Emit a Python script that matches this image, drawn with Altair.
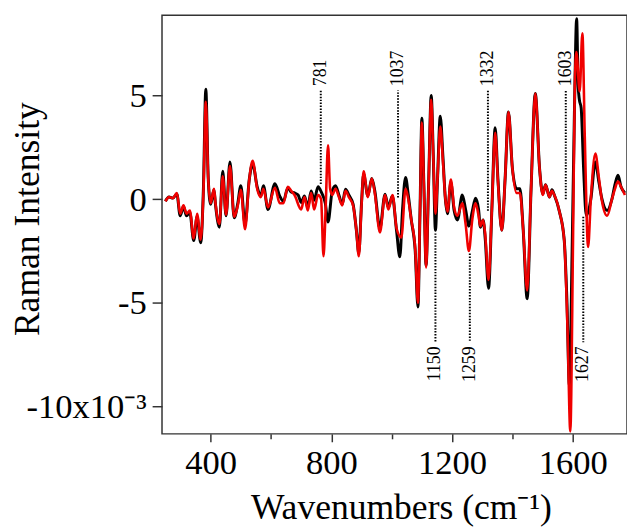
import altair as alt
import pandas as pd

# ---- spectra (intensity in units of 1e-3) ----
black_x = [250, 262, 275, 288, 299, 310, 320, 331, 344, 355, 367, 376, 384, 392, 400, 411, 416, 429, 440, 451,
           464, 478, 490, 500, 514, 528, 539, 555, 566, 575, 590, 613, 629, 641, 656, 667, 678, 690, 700, 711,
           722, 733, 743, 756, 768, 780, 789, 803, 814, 825, 836, 847, 858, 872, 883, 891, 900, 907, 921, 934,
           944, 961, 978, 989, 1002, 1016, 1027, 1036, 1046, 1055, 1065, 1078, 1087, 1094, 1100, 1107, 1114, 1122, 1131, 1138,
           1145, 1152, 1161, 1170, 1178, 1185, 1196, 1207, 1218, 1234, 1245, 1256, 1267, 1278, 1288, 1294, 1303, 1310, 1321, 1332,
           1343, 1352, 1365, 1376, 1387, 1400, 1414, 1425, 1436, 1449, 1462, 1476, 1490, 1501, 1510, 1523, 1531, 1539, 1556, 1572,
           1581, 1589, 1598, 1606, 1613, 1618, 1622, 1628, 1636, 1645, 1660, 1675, 1687, 1697, 1714, 1730, 1740, 1750, 1760, 1773]
black_y = [-0.1, 0.1, 0.05, 0.25, -0.8, -0.35, -0.8, -0.65, -2.0, -0.85, -2.1, 0.5, 5.3, 1.0, -0.25, 0.45, -0.25, -1.35, 1.35, -0.8,
           1.8, -0.9, -0.2, 0.65, -1.2, 0.95, 1.7, 0.55, 0.15, 0.65, -0.5, 0.75, 0.15, -0.1, 0.55, 0.35, 0.3, 0.2, -0.16, 0.16,
           -0.4, 0.4, -0.05, 0.6, 0.3, -0.2, -1.1, 0.4, 0.65, 0.2, -0.24, 0.48, 0.2, -0.24, -1.5, -2.6, -0.2, 1.2, 0.16, 1.0,
           0.4, -1.4, 0.24, -0.4, 0.16, -1.5, -2.78, -0.5, 1.05, 0.2, -1.0, -2.5, -5.2, -0.5, 3.9, 0.5, -3.2, 0.5, 5.0, 2.0,
           -1.5, 1.0, 4.0, 2.0, 0.0, -0.7, 0.8, -0.55, -1.0, 0.2, -0.5, -1.3, -0.6, 0.05, -0.5, -1.35, -1.0, -1.9, -4.3, -0.5,
           3.45, 1.0, -1.5, 1.0, 4.2, 1.5, 0.5, 0.5, -1.5, -4.8, 0.5, 5.1, 1.5, 0.25, 0.7, 0.1, 0.45, 0.2, -0.6, -2.0,
           -5.0, -9.0, -2.5, 4.5, 8.7, 5.5, 4.8, 4.4, 1.5, -0.8, 0.0, 1.8, 0.8, 0.0, -0.55, 0.0, 0.7, 1.15, 0.6, 0.3]

red_x = [250, 262, 275, 288, 299, 310, 320, 331, 344, 355, 367, 376, 384, 392, 400, 411, 416, 429, 440, 451,
         464, 478, 490, 500, 514, 528, 539, 555, 566, 575, 590, 613, 629, 641, 656, 667, 678, 700, 711, 722,
         733, 743, 756, 766, 774, 781, 789, 796, 803, 814, 825, 836, 847, 858, 872, 883, 891, 900, 907, 921,
         934, 944, 961, 978, 989, 1003, 1016, 1032, 1046, 1055, 1065, 1078, 1087, 1094, 1100, 1107, 1114, 1122, 1131, 1138,
         1145, 1152, 1161, 1170, 1178, 1185, 1196, 1207, 1218, 1234, 1245, 1256, 1267, 1278, 1288, 1294, 1303, 1310, 1321, 1332,
         1343, 1352, 1365, 1376, 1387, 1400, 1414, 1425, 1436, 1449, 1462, 1476, 1490, 1501, 1510, 1523, 1531, 1539, 1556, 1572,
         1583, 1592, 1601, 1607, 1612, 1623, 1632, 1640, 1651, 1660, 1675, 1687, 1697, 1714, 1730, 1740, 1750, 1760, 1773]
red_y = [-0.1, 0.1, 0.05, 0.3, -0.7, -0.3, -0.7, -0.55, -1.9, -0.7, -1.95, 0.3, 4.7, 1.0, -0.2, 0.5, -0.2, -1.2, 1.1, -0.75,
         1.6, -0.85, -0.3, 0.45, -1.45, 0.95, 1.85, 0.45, 0.1, 0.5, -0.4, 0.55, -0.2, -0.2, 0.6, 0.4, 0.2, -0.5, 0.1, -0.55,
         0.3, -0.5, 0.2, 0.0, -2.75, -0.5, 2.6, 0.5, 0.2, 0.5, 0.1, -0.3, 0.4, 0.1, -0.3, -1.5, -2.75, -0.3, 1.35, 0.1,
         1.0, 0.3, -1.6, 0.2, -0.5, 0.2, -1.4, -1.85, 0.5, 0.0, -1.0, -2.4, -5.0, -0.5, 3.7, 0.5, -3.3, 0.5, 4.8, 2.0,
         -0.7, 1.0, 3.5, 1.8, 0.0, -0.6, 0.95, -0.4, -0.8, -0.2, -1.2, -2.5, -1.0, -0.2, -0.8, -1.3, -1.0, -1.7, -3.9, -0.5,
         3.2, 0.9, -1.5, 1.0, 4.2, 1.5, 0.3, 0.3, -1.5, -4.4, 0.5, 5.1, 1.5, 0.2, 0.7, 0.1, 0.4, 0.2, -0.6, -2.0,
         -6.4, -11.2, -2.0, 5.5, 7.1, 5.2, 8.0, 3.0, -2.3, 0.0, 2.2, 1.0, -0.1, -0.8, 0.0, 0.5, 0.85, 0.6, 0.2]

# ---- peak annotations ----
up_labels = ["781", "1037", "1332", "1603"]
up_x = [765, 1021, 1319, 1577]
up_y0 = [0.73, 0.08, -0.56, 0.0]
up_y1 = [5.24, 5.24, 5.24, 5.24]
up_ty = [5.45, 5.45, 5.45, 5.45]

lo_labels = ["1150", "1259", "1627"]
lo_x = [1145, 1259, 1635]
lo_y0 = [-1.65, -2.62, -0.85]
lo_y1 = [-6.9, -6.9, -6.9]
lo_ty = [-7.1, -7.1, -7.1]

x_ticks = [400, 600, 800, 1000, 1200, 1400, 1600]
y_ticks = [-10, -5, 0, 5]

black_df = pd.DataFrame({"x": black_x, "y": black_y})
red_df = pd.DataFrame({"x": red_x, "y": red_y})
up_df = pd.DataFrame({"x": up_x, "y0": up_y0, "y1": up_y1, "ty": up_ty, "label": up_labels})
lo_df = pd.DataFrame({"x": lo_x, "y0": lo_y0, "y1": lo_y1, "ty": lo_ty, "label": lo_labels})

FONT = "Liberation Serif"

xscale = alt.Scale(domain=[238.8, 1779.9], nice=False, zero=False)
yscale = alt.Scale(domain=[-11.32, 8.87], nice=False, zero=False)

xaxis = alt.Axis(
    values=x_ticks, format="d",
    labelExpr="datum.value % 400 == 0 ? datum.label : ''",
    tickSize={"condition": {"test": "datum.value % 400 == 0", "value": 8}, "value": 5},
    labelPadding=4, labelOverlap=False, labelFlush=False,
    title="Wavenumbers (cm\u207b\u00b9)", titleX=242, titleY=86,
    titleAlign="center", titleBaseline="alphabetic",
)
yaxis = alt.Axis(
    values=y_ticks,
    labelExpr="datum.value == -10 ? '-10x10\u207b\u00b3' : (datum.value < 0 ? '-' + abs(datum.value) : '' + datum.value)",
    tickSize=10, labelPadding=6, labelOverlap=False, labelFlush=False,
    title="Raman Intensity", titleX=-125, titleY=206, titleAngle=270,
    titleAlign="center", titleBaseline="alphabetic",
)

X = alt.X("x:Q", scale=xscale, axis=xaxis)
Y = alt.Y("y:Q", scale=yscale, axis=yaxis)

black_line = alt.Chart(black_df).mark_line(
    color="#000000", strokeWidth=3, interpolate="monotone", clip=True
).encode(x=X, y=Y, order="x:Q")

red_line = alt.Chart(red_df).mark_line(
    color="#f00000", strokeWidth=2.6, interpolate="monotone", clip=True
).encode(x=X, y=Y, order="x:Q")

up_rule = alt.Chart(up_df).mark_rule(color="black", strokeWidth=2, strokeDash=[1.5, 1.5]).encode(
    x=alt.X("x:Q", scale=xscale), y=alt.Y("y0:Q", scale=yscale), y2="y1:Q")
lo_rule = alt.Chart(lo_df).mark_rule(color="black", strokeWidth=2, strokeDash=[1.5, 1.5]).encode(
    x=alt.X("x:Q", scale=xscale), y=alt.Y("y0:Q", scale=yscale), y2="y1:Q")

up_text = alt.Chart(up_df).mark_text(angle=270, align="left", baseline="middle",
                                     font=FONT, fontSize=18, color="black").encode(
    x=alt.X("x:Q", scale=xscale), y=alt.Y("ty:Q", scale=yscale), text="label:N")
lo_text = alt.Chart(lo_df).mark_text(angle=270, align="right", baseline="middle",
                                     font=FONT, fontSize=18, color="black").encode(
    x=alt.X("x:Q", scale=xscale), y=alt.Y("ty:Q", scale=yscale), text="label:N")

chart = alt.layer(black_line, red_line, up_rule, lo_rule, up_text, lo_text).properties(
    width=471, height=424,
    autosize=alt.AutoSizeParams(type="none"),
    padding={"left": 156, "top": 4, "right": 0, "bottom": 94},
).configure_view(
    stroke="#333333", strokeWidth=1.5
).configure_axis(
    domain=False, grid=False,
    labelFont=FONT, labelFontSize=35, labelColor="black",
    titleFont=FONT, titleFontSize=36, titleColor="black", titleFontWeight="normal",
    tickColor="#333333", tickWidth=1.5,
)

chart.save("out.html", embed_options={"renderer": "svg", "actions": False})
